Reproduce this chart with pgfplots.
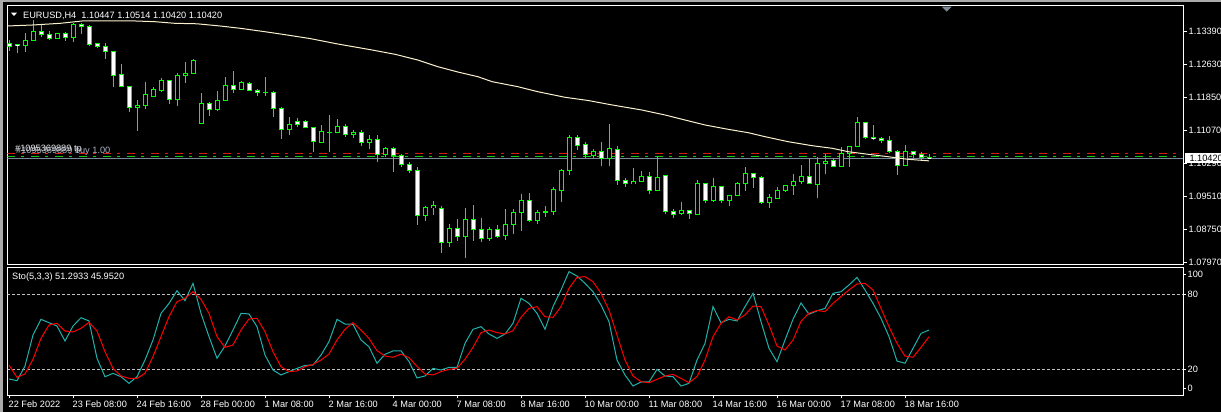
\documentclass[border=0pt]{standalone}
\usepackage{fontspec}
\setmainfont{Liberation Sans}
\usepackage{pgfplots}
\usepackage{pgfplotstable}
\pgfplotsset{compat=1.18}
\definecolor{mtlime}{RGB}{0,255,0}
\definecolor{macol}{RGB}{250,240,205}
\definecolor{stomain}{RGB}{32,178,170}
\definecolor{stosig}{RGB}{255,0,0}
\definecolor{lvgrey}{RGB}{192,192,192}
\definecolor{bidgrey}{RGB}{119,136,153}
\definecolor{tpred}{RGB}{230,20,20}
\definecolor{opgreen}{RGB}{20,200,20}
\definecolor{winframe}{RGB}{170,170,170}
\definecolor{shiftmark}{RGB}{128,138,150}
\definecolor{ordtxtA}{RGB}{170,180,200}
\definecolor{ordtxtB}{RGB}{225,225,225}
\newcommand\fs{\fontsize{9.2pt}{11pt}\selectfont}

\pgfplotstableread{
i o h l c
0 1.13117 1.13195 1.12944 1.13054
1 1.13094 1.13101 1.12882 1.13054
2 1.13070 1.13367 1.12920 1.13195
3 1.13179 1.13665 1.13179 1.13399
4 1.13399 1.13548 1.13258 1.13336
5 1.13329 1.13399 1.13195 1.13235
6 1.13235 1.13352 1.13235 1.13352
7 1.13352 1.13390 1.13179 1.13258
8 1.13258 1.13602 1.13155 1.13571
9 1.13571 1.13587 1.13336 1.13524
10 1.13524 1.13540 1.13054 1.13101
11 1.13117 1.13117 1.13000 1.13054
12 1.13038 1.13117 1.12741 1.12920
13 1.12929 1.12929 1.12083 1.12365
14 1.12396 1.12631 1.12083 1.12098
15 1.12114 1.12114 1.11510 1.11613
16 1.11613 1.11785 1.11064 1.11660
17 1.11651 1.12215 1.11574 1.11903
18 1.11879 1.12083 1.11863 1.12044
19 1.12020 1.12295 1.11980 1.12255
20 1.12255 1.12255 1.11684 1.11801
21 1.11801 1.12427 1.11644 1.12365
22 1.12365 1.12685 1.12177 1.12412
23 1.12412 1.12749 1.12412 1.12725
24 1.11237 1.11957 1.11237 1.11707
25 1.11707 1.11738 1.11409 1.11566
26 1.11566 1.11997 1.11534 1.11785
27 1.11769 1.12318 1.11769 1.12130
28 1.12130 1.12467 1.11957 1.12036
29 1.12036 1.12239 1.12036 1.12192
30 1.12177 1.12208 1.11997 1.12004
31 1.12020 1.12044 1.11886 1.11957
32 1.11973 1.12318 1.11879 1.11970
33 1.11973 1.11997 1.11393 1.11581
34 1.11597 1.11613 1.10876 1.11096
35 1.11096 1.11378 1.10963 1.11214
36 1.11275 1.11355 1.11158 1.11214
37 1.11292 1.11315 1.11120 1.11134
38 1.11143 1.11158 1.10570 1.10805
39 1.10798 1.11198 1.10767 1.11049
40 1.11033 1.11433 1.10570 1.11030
41 1.11017 1.11339 1.11002 1.11174
42 1.11174 1.11214 1.10923 1.10979
43 1.10970 1.11080 1.10892 1.11033
44 1.11026 1.11080 1.10711 1.10791
45 1.10782 1.10963 1.10626 1.10861
46 1.10861 1.10955 1.10335 1.10500
47 1.10500 1.10688 1.10453 1.10657
48 1.10657 1.10688 1.10100 1.10476
49 1.10485 1.10509 1.10218 1.10274
50 1.10281 1.10335 1.10077 1.10124
51 1.10133 1.10203 1.08848 1.09066
52 1.09066 1.09294 1.08949 1.09263
53 1.09254 1.09412 1.09083 1.09310
54 1.09240 1.09294 1.08197 1.08432
55 1.08432 1.08871 1.08338 1.08770
56 1.08770 1.08981 1.08479 1.08573
57 1.08573 1.09240 1.08065 1.08981
58 1.08981 1.09318 1.08479 1.08746
59 1.08746 1.09005 1.08455 1.08526
60 1.08526 1.08808 1.08479 1.08746
61 1.08746 1.08848 1.08542 1.08589
62 1.08589 1.09224 1.08495 1.08864
63 1.08864 1.09224 1.08636 1.09153
64 1.09146 1.09576 1.08707 1.09428
65 1.09428 1.09600 1.08918 1.08949
66 1.08965 1.09200 1.08871 1.09146
67 1.09160 1.09294 1.09043 1.09155
68 1.09160 1.09748 1.09090 1.09686
69 1.09670 1.10156 1.09388 1.10133
70 1.10124 1.10963 1.10023 1.10908
71 1.10908 1.10963 1.10610 1.10728
72 1.10744 1.10791 1.10415 1.10500
73 1.10493 1.10626 1.10415 1.10579
74 1.10570 1.10798 1.10234 1.10415
75 1.10415 1.11221 1.10234 1.10650
76 1.10626 1.10704 1.09788 1.09889
77 1.09898 1.09945 1.09748 1.09818
78 1.09818 1.10187 1.09818 1.09874
79 1.09865 1.10109 1.09865 1.09999
80 1.09999 1.10093 1.09576 1.09654
81 1.09654 1.10469 1.09654 1.09968
82 1.09999 1.10023 1.09106 1.09160
83 1.09169 1.09216 1.09012 1.09099
84 1.09113 1.09388 1.09083 1.09177
85 1.09177 1.09177 1.08989 1.09113
86 1.09106 1.09905 1.09083 1.09827
87 1.09827 1.09827 1.09357 1.09419
88 1.09419 1.09952 1.09395 1.09757
89 1.09757 1.09757 1.09372 1.09419
90 1.09419 1.09545 1.09294 1.09545
91 1.09536 1.09851 1.09536 1.09827
92 1.09827 1.10218 1.09654 1.10062
93 1.10062 1.10062 1.09724 1.09968
94 1.09968 1.09999 1.09341 1.09372
95 1.09372 1.09576 1.09254 1.09498
96 1.09475 1.09748 1.09475 1.09663
97 1.09663 1.09780 1.09630 1.09780
98 1.09780 1.10046 1.09553 1.09874
99 1.09865 1.10258 1.09811 1.09999
100 1.09999 1.10415 1.09818 1.09818
101 1.09804 1.10453 1.09489 1.10297
102 1.10297 1.10516 1.10046 1.10344
103 1.10368 1.10415 1.10218 1.10218
104 1.10218 1.10673 1.10218 1.10532
105 1.10532 1.10697 1.10218 1.10697
106 1.10688 1.11393 1.10673 1.11261
107 1.11261 1.11261 1.10876 1.10899
108 1.10916 1.11198 1.10845 1.10876
109 1.10892 1.10923 1.10767 1.10829
110 1.10838 1.10939 1.10532 1.10570
111 1.10579 1.10610 1.10030 1.10250
112 1.10250 1.10728 1.10250 1.10579
113 1.10579 1.10579 1.10415 1.10509
114 1.10509 1.10556 1.10359 1.10429
115 1.10447 1.10514 1.10420 1.10420
}\candles

\pgfplotstableread{
k main sig
0 12.0 23.2
1 10.6 13.3
2 22.4 16.0
3 47.3 27.8
4 59.9 44.6
5 57.2 55.3
6 54.5 56.7
7 42.5 50.5
8 54.5 49.7
9 61.2 52.7
10 58.6 57.5
11 28.6 50.5
12 13.8 33.9
13 16.5 20.5
14 13.8 14.4
15 8.5 12.5
16 13.8 12.5
17 27.2 16.5
18 43.3 29.9
19 64.7 46.0
20 72.7 62.0
21 82.9 74.1
22 74.9 76.8
23 88.8 82.1
24 64.7 76.0
25 46.0 64.7
26 28.6 46.0
27 38.5 37.4
28 51.3 39.3
29 64.7 51.3
30 64.2 60.2
31 54.0 60.7
32 31.2 50.0
33 19.2 33.9
34 15.2 21.9
35 17.9 17.9
36 20.5 18.4
37 22.9 21.9
38 23.2 23.7
39 31.2 27.2
40 42.0 32.0
41 59.9 43.3
42 56.1 51.9
43 55.9 57.2
44 43.3 51.3
45 37.9 44.6
46 24.6 34.7
47 31.8 30.4
48 34.5 29.4
49 34.6 31.9
50 26.0 29.1
51 12.8 22.2
52 14.4 16.0
53 20.5 15.2
54 19.2 17.9
55 21.3 19.7
56 21.3 20.5
57 40.6 27.8
58 51.9 37.4
59 54.0 49.2
60 48.1 51.3
61 44.6 49.2
62 48.1 48.1
63 56.7 50.8
64 76.8 61.5
65 72.7 68.7
66 64.7 70.1
67 51.9 62.0
68 70.1 61.5
69 83.5 70.1
70 98.2 84.8
71 94.7 93.6
72 88.8 94.2
73 82.1 90.1
74 71.4 80.8
75 58.0 67.4
76 27.2 47.3
77 15.2 27.2
78 6.3 14.4
79 9.6 9.8
80 9.6 9.0
81 19.7 11.7
82 14.4 14.4
83 13.8 15.7
84 6.3 12.5
85 8.5 9.0
86 27.2 13.8
87 40.6 27.2
88 70.1 46.0
89 57.2 56.7
90 59.9 62.0
91 58.6 59.4
92 70.1 63.4
93 80.8 70.6
94 58.0 70.1
95 36.6 55.3
96 25.9 38.5
97 43.3 35.3
98 59.9 43.3
99 73.0 58.3
100 64.0 64.9
101 66.7 67.0
102 68.7 66.1
103 80.8 72.7
104 82.1 78.1
105 87.5 83.5
106 93.6 88.3
107 83.5 88.8
108 72.7 83.5
109 60.7 68.7
110 46.0 54.0
111 26.4 40.6
112 24.6 30.4
113 36.6 29.4
114 48.6 37.4
115 51.29 45.95
}\stoch

\begin{document}
\begin{tikzpicture}[x=1pt,y=1pt]
\fill[black] (0,0) rectangle (1221,-412);
\fill[winframe] (0,0) rectangle (1221,-2.5);
\fill[winframe] (0,0) rectangle (2.5,-412);

% ---------------- price panel ----------------
\begin{axis}[
  at={(7.3pt,-6pt)}, anchor=north west,
  scale only axis, width=1175.7pt, height=258pt,
  xmin=-0.2125, xmax=146.75, ymin=1.07931, ymax=1.13994,
  axis line style={white, line width=1pt},
  xtick=\empty,
  scaled y ticks=false,
  ytick={1.07970,1.08750,1.09510,1.10290,1.11070,1.11850,1.12630,1.13390},
  yticklabels={1.07970,1.08750,1.09510,1.10290,1.11070,1.11850,1.12630,1.13390},
  ytick pos=right, yticklabel pos=right,
  tick align=outside, major tick length=4pt,
  tick style={white, line width=1pt},
  yticklabel style={font=\fs, text=white, anchor=west, inner sep=0pt, xshift=1.5pt},
]
% order / price lines
\addplot[tpred, line width=1pt, dash pattern=on 8pt off 6pt on 3pt off 7pt] coordinates {(-0.2125,1.10532) (146.75,1.10532)};
\addplot[opgreen, line width=1pt, dash pattern=on 8pt off 6pt on 3pt off 7pt] coordinates {(-0.2125,1.10469) (146.75,1.10469)};
\addplot[bidgrey, line width=1pt] coordinates {(-0.2125,1.10420) (146.75,1.10420)};
% wicks
\addplot[draw=none, mark=none,
  error bars/.cd, y dir=plus, y explicit, error mark=none,
  error bar style={draw=mtlime, line width=1pt}]
  table[x=i, y=l, y error expr={\thisrow{h}-\thisrow{l}}] {\candles};
% body outline
\addplot[draw=none, mark=none,
  error bars/.cd, y dir=both, y explicit, error mark=none,
  error bar style={draw=mtlime, line width=5pt}]
  table[x=i, y expr={(\thisrow{o}+\thisrow{c})/2}, y error expr={abs(\thisrow{o}-\thisrow{c})/2+0.0001175}] {\candles};
% body inner black (all)
\addplot[draw=none, mark=none,
  error bars/.cd, y dir=both, y explicit, error mark=none,
  error bar style={draw=black, line width=3pt}]
  table[x=i, y expr={(\thisrow{o}+\thisrow{c})/2}, y error expr={max(abs(\thisrow{o}-\thisrow{c})/2-0.0001175,0)}] {\candles};
% body inner white (bearish)
\addplot[draw=none, mark=none,
  error bars/.cd, y dir=both, y explicit, error mark=none,
  error bar style={draw=white, line width=3pt}]
  table[x=i, y expr={(\thisrow{o}+\thisrow{c})/2}, y error expr={(\thisrow{o}>\thisrow{c})*max(abs(\thisrow{o}-\thisrow{c})/2-0.0001175,0)}] {\candles};
% moving average
\addplot[macol, line width=1pt] coordinates {
(-0.25,1.13524) (3,1.13548) (6.4,1.13587) (9.25,1.13644) (15.5,1.13644) (18.25,1.13625)
(20.75,1.13587) (23.5,1.13576) (26.4,1.13524) (28.9,1.13470) (32.25,1.13383) (34.75,1.13313)
(37.6,1.13230) (41.1,1.13101) (45.4,1.12960) (48.25,1.12859) (51.1,1.12725) (53.6,1.12568)
(56.1,1.12443) (58.6,1.12333) (60.4,1.12215) (63.6,1.12098) (66.1,1.11980) (69.5,1.11849)
(72.4,1.11773) (75.4,1.11668) (79.1,1.11550) (82,1.11433) (84.5,1.11315) (87,1.11198)
(89.9,1.11096) (92.4,1.11017) (94.5,1.10923) (97.4,1.10805) (100.4,1.10711) (102.9,1.10650)
(104.9,1.10570) (107.4,1.10509) (109.9,1.10452) (112.4,1.10391) (115,1.10355)
};
\end{axis}

% ---------------- stochastic panel ----------------
\begin{axis}[
  at={(7.3pt,-267pt)}, anchor=north west,
  scale only axis, width=1175.7pt, height=128pt,
  xmin=-0.2125, xmax=146.75, ymin=-0.88, ymax=101.93,
  axis line style={white, line width=1pt},
  xtick={0,8,...,112},
  xticklabels={22 Feb 2022,23 Feb 08:00,24 Feb 16:00,28 Feb 00:00,1 Mar 08:00,2 Mar 16:00,4 Mar 00:00,7 Mar 08:00,8 Mar 16:00,10 Mar 00:00,11 Mar 08:00,14 Mar 16:00,16 Mar 00:00,17 Mar 08:00,18 Mar 16:00},
  xtick pos=bottom,
  ytick={4.5,20,80,96.06}, yticklabels={0,20,80,100},
  ytick pos=right, yticklabel pos=right,
  tick align=outside, major tick length=3pt,
  tick style={white, line width=1pt},
  yticklabel style={font=\fs, text=white, anchor=west, inner sep=0pt, xshift=1.5pt},
  xticklabel style={font=\fs, text=white, anchor=north west, inner sep=0pt, text height=7pt, text depth=2pt, xshift=-0.5pt, yshift=-2pt},
]
\addplot[lvgrey, line width=1pt, dash pattern=on 3pt off 2pt] coordinates {(-0.2125,80) (146.75,80)};
\addplot[lvgrey, line width=1pt, dash pattern=on 3pt off 2pt] coordinates {(-0.2125,20) (146.75,20)};
\addplot[stomain, line width=1pt] table[x=k, y=main] {\stoch};
\addplot[stosig, line width=1pt] table[x=k, y=sig] {\stoch};
\end{axis}

% ---------------- texts and markers ----------------
\fill[white] (11,-12.7) -- (17,-12.7) -- (14,-16) -- cycle;
\node[anchor=base west, inner sep=0pt, text=white, font=\fs] at (23,-18.3) {EURUSD,H4\ \ 1.10447 1.10514 1.10420 1.10420};
\fill[shiftmark] (941.7,-6.7) -- (951.7,-6.7) -- (946.7,-11.7) -- cycle;
\node[anchor=base west, inner sep=0pt, text=ordtxtA, font=\fs] at (16,-153.3) {\#1095369889 buy 1.00};
\node[anchor=base west, inner sep=0pt, text=ordtxtB, font=\fs] at (15,-151) {\#1095369889 tp};
\node[anchor=base west, inner sep=0pt, text=white, font=\fs] at (12,-279.3) {Sto(5,3,3) 51.2933 45.9520};
\fill[white] (1185,-153.3) rectangle (1221,-162.7);
\node[anchor=base west, inner sep=0pt, text=black, font=\fs] at (1189.3,-161.6) {1.10420};

\pgfresetboundingbox
\useasboundingbox (0,0) rectangle (1221,-412);
\end{tikzpicture}
\end{document}
